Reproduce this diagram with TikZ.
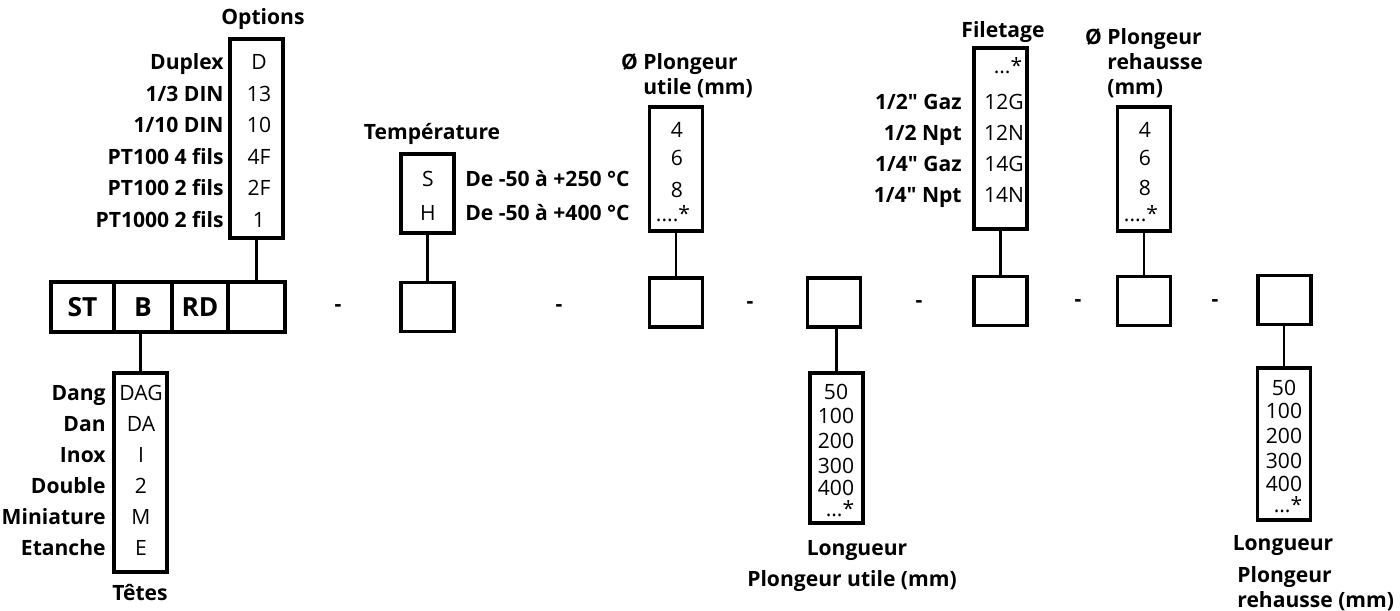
\documentclass[tikz,border=0pt]{standalone}
\usepackage{fontspec}
\setmainfont{Open Sans}
\newfontfamily\rawfont{Open Sans}
\newcommand\inch{{\rawfont\bfseries"}}
\usetikzlibrary{positioning}

\tikzset{
  cell/.style={draw, line width=1.8pt, outer sep=0pt, minimum height=1cm,
    font=\fontsize{15}{17}\selectfont\bfseries},
  slot/.style={draw, line width=1.8pt, outer sep=0pt, minimum width=1.06cm, minimum height=0.98cm},
  list/.style={draw, line width=1.8pt, outer sep=0pt, minimum width=1.06cm},
  val/.style={inner sep=0pt, anchor=base, font=\fontsize{12}{14}\selectfont},
  lab/.style={inner sep=0pt, anchor=base east, font=\fontsize{12}{14}\selectfont\bfseries},
  title/.style={inner sep=0pt, anchor=base, font=\fontsize{12}{14}\selectfont\bfseries},
  block/.style={inner sep=0pt, anchor=north west, align=left, font=\fontsize{12}{14.2}\selectfont\bfseries},
  sep/.style={inner sep=0pt, font=\fontsize{12}{14}\selectfont\bfseries},
  link/.style={line width=1.6pt},
}

\begin{document}
\begin{tikzpicture}[x=0.02cm, y=-0.02cm]
  \useasboundingbox (0,0) rectangle (1400,611);

  % main code
  \node[cell, minimum width=1.26cm] (st) at (82.5,307) {ST};
  \node[cell, minimum width=1.16cm, right=0pt of st] (b) {B};
  \node[cell, minimum width=1.12cm, right=0pt of b] (rd) {RD};
  \node[cell, minimum width=1.14cm, right=0pt of rd] (opt) {};

  \node[slot] (temp) at (427.5,307) {};
  \node[slot] (dpu) at (676,302.5) {};
  \node[slot] (lpu) at (834,302.5) {};
  \node[slot] (fil) at (1000.5,301) {};
  \node[slot] (dpr) at (1144,301) {};
  \node[slot] (lpr) at (1284.5,300) {};

  \node[sep] (s1) at (338,308) {-};
  \node[sep] (s2) at (559,308) {-};
  \node[sep] (s3) at (750,305) {-};
  \node[sep] (s4) at (919,304) {-};
  \node[sep] (s5) at (1078,303) {-};
  \node[sep] (s6) at (1215,303) {-};

  % options
  \node[list, minimum height=3.98cm] (optlist) at (256.5,138.5) {};
  \node[title] (opttitle) at (263,25) {Options};
  \foreach \l/\v [count=\i] in {Duplex/D, {1/3 DIN}/13, {1/10 DIN}/10,
      PT100 4 fils/4F, PT100 2 fils/2F, PT1000 2 fils/1} {
    \node[lab] (optl\i) at (224, 62+31.5*\i-31.5+8) {\l};
    \node[val] (optv\i) at (259, 62+31.5*\i-31.5+8) {\v};
  }

  % tetes
  \node[list, minimum height=3.98cm] (tetlist) at (140.5,472.5) {};
  \node[title] (tettitle) at (140,600) {Têtes};
  \foreach \l/\v [count=\i] in {Dang/DAG, Dan/DA, Inox/I, Double/2, Miniature/M, Etanche/E} {
    \node[lab] (tetl\i) at (106, 392+31*\i-31+8) {\l};
    \node[val] (tetv\i) at (141, 392+31*\i-31+8) {\v};
  }

  % temperature
  \node[list, minimum height=1.58cm] (templist) at (427.5,193.5) {};
  \node[title] (temptitle) at (432,140) {Température};
  \node[val] (tempv1) at (428,187) {S};
  \node[val] (tempv2) at (428,221) {H};
  \node[sep, anchor=base west] (templ1) at (465,187) {De -50 à +250 °C};
  \node[sep, anchor=base west] (templ2) at (465,221) {De -50 à +400 °C};

  % diametre plongeur utile
  \node[list, minimum height=2.48cm] (dpulist) at (676,169) {};
  \node[block] (dputitle) at (643,53) {\llap{Ø }Plongeur\\utile (mm)};
  \foreach \v/\y [count=\i] in {4/130, 6/158, 8/190}
    \node[val] (dpuv\i) at (677,\y+8) {\v};
  \node[val] (dpuv4) at (673,222) {....*};

  % longueur plongeur utile
  \node[list, minimum height=3cm] (lpulist) at (836.5,448) {};
  \foreach \v/\y [count=\i] in {50/391, 100/415, 200/440, 300/465, 400/487}
    \node[val] (lpuv\i) at (836,\y+8) {\v};
  \node[val] (lpuv6) at (840,516) {...*};
  \node[title] (lputitle) at (857,555) {Longueur};
  \node[title] (lpusub) at (852,586) {Plongeur utile (mm)};

  % filetage
  \node[list, minimum height=3.62cm] (fillist) at (1000.5,138.5) {};
  \node[title] (filtitle) at (1003,38) {Filetage};
  \node[val] (filv0) at (1008,74) {...*};
  \foreach \l/\v [count=\i] in {{1/2\inch{} Gaz}/12G, {1/2 Npt}/12N,
      {1/4\inch{} Gaz}/14G, {1/4\inch{} Npt}/14N} {
    \node[lab] (fill\i) at (962, 102+31*\i-31+8) {\l};
    \node[val] (filv\i) at (1004, 102+31*\i-31+8) {\v};
  }

  % diametre plongeur rehausse
  \node[list, minimum height=2.48cm] (dprlist) at (1144,169) {};
  \node[block] (dprtitle) at (1107,28) {\llap{Ø }Plongeur\\rehausse\\(mm)};
  \foreach \v/\y [count=\i] in {4/130, 6/158, 8/188}
    \node[val] (dprv\i) at (1145,\y+8) {\v};
  \node[val] (dprv4) at (1141,222) {....*};

  % longueur plongeur rehausse
  \node[list, minimum height=3.04cm] (lprlist) at (1284,444) {};
  \foreach \v/\y [count=\i] in {50/387, 100/410, 200/435, 300/460, 400/483}
    \node[val] (lprv\i) at (1284,\y+8) {\v};
  \node[val] (lprv6) at (1288,512) {...*};
  \node[title] (lprtitle) at (1283,550) {Longueur};
  \node[block] (lprsub) at (1237,566) {Plongeur\\rehausse (mm)};

  \path[link]
    (optlist.south) edge (opt.north)
    (tetlist.north) edge (tetlist.north |- b.south)
    (templist.south) edge (temp.north)
    (dpulist.south) edge (dpu.north)
    (lpulist.north) edge (lpulist.north |- lpu.south)
    (fillist.south) edge (fil.north)
    (dprlist.south) edge (dpr.north)
    (lprlist.north) edge (lprlist.north |- lpr.south);
\end{tikzpicture}
\end{document}
